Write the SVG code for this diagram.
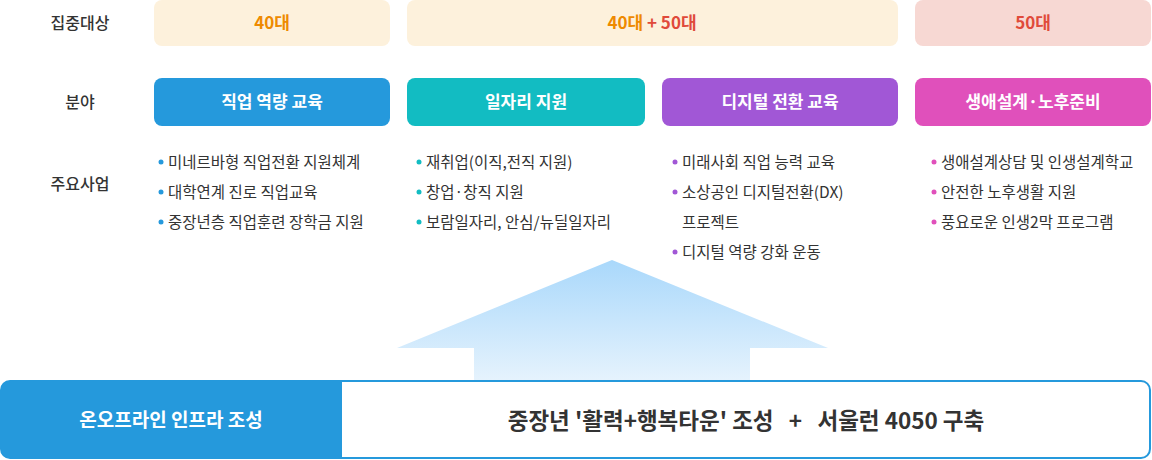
<svg xmlns="http://www.w3.org/2000/svg" width="1152" height="460" viewBox="0 0 1152 460">
<style>
text{font-family:"Noto Sans CJK KR","Noto Sans",sans-serif}
.lab{font-size:16px;fill:#333;font-weight:500}
.hd{font-size:17px;font-weight:700;text-anchor:middle}
.cat{font-size:17px;font-weight:700;fill:#fff;text-anchor:middle}
.it{font-size:15.5px;fill:#333}
</style>
<defs>
<linearGradient id="ag" x1="0" y1="0" x2="0" y2="1">
<stop offset="0" stop-color="#a9d8fb"/><stop offset="1" stop-color="#e6f3fd"/>
</linearGradient>
</defs>
<g id="labels">
<text class="lab" x="80" y="29" text-anchor="middle">집중대상</text>
<text class="lab" x="80" y="108" text-anchor="middle">분야</text>
<text class="lab" x="80" y="190" text-anchor="middle">주요사업</text>
</g>
<g id="targets">
<rect x="154" y="0" width="236" height="46" rx="8" fill="#fdf1dc"/>
<text class="hd" x="272" y="29" fill="#ee8a00">40대</text>
<rect x="407" y="0" width="491" height="46" rx="8" fill="#fdf1dc"/>
<text class="hd" x="652" y="29" fill="#ee8a00">40대 <tspan fill="#e04a3a">+ 50대</tspan></text>
<rect x="915" y="0" width="236" height="46" rx="8" fill="#f7d8d3"/>
<text class="hd" x="1033" y="29" fill="#e04a3a">50대</text>
</g>
<g id="cat1"><rect x="154" y="78" width="236" height="48" rx="8" fill="#2599dc"/><text class="cat" x="272" y="108">직업 역량 교육</text>
<circle cx="161" cy="162" r="2.5" fill="#2599dc"/><text class="it" x="168" y="168">미네르바형 직업전환 지원체계</text>
<circle cx="161" cy="192" r="2.5" fill="#2599dc"/><text class="it" x="168" y="198">대학연계 진로 직업교육</text>
<circle cx="161" cy="222" r="2.5" fill="#2599dc"/><text class="it" x="168" y="228">중장년층 직업훈련 장학금 지원</text></g>
<g id="cat2"><rect x="407" y="78" width="238" height="48" rx="8" fill="#12bcc2"/><text class="cat" x="526" y="108">일자리 지원</text>
<circle cx="419" cy="162" r="2.5" fill="#12bcc2"/><text class="it" x="426" y="168">재취업(이직,전직 지원)</text>
<circle cx="419" cy="192" r="2.5" fill="#12bcc2"/><text class="it" x="426" y="198">창업·창직 지원</text>
<circle cx="419" cy="222" r="2.5" fill="#12bcc2"/><text class="it" x="426" y="228">보람일자리, 안심/뉴딜일자리</text></g>
<g id="cat3"><rect x="662" y="78" width="236" height="48" rx="8" fill="#a157d6"/><text class="cat" x="780" y="108">디지털 전환 교육</text>
<circle cx="675" cy="162" r="2.5" fill="#a157d6"/><text class="it" x="682" y="168">미래사회 직업 능력 교육</text>
<circle cx="675" cy="192" r="2.5" fill="#a157d6"/><text class="it" x="682" y="198">소상공인 디지털전환(DX)</text>
<text class="it" x="682" y="228">프로젝트</text>
<circle cx="675" cy="252" r="2.5" fill="#a157d6"/><text class="it" x="682" y="258">디지털 역량 강화 운동</text></g>
<g id="cat4"><rect x="915" y="78" width="236" height="48" rx="8" fill="#e050bb"/><text class="cat" x="1033" y="108">생애설계·노후준비</text>
<circle cx="934" cy="162" r="2.5" fill="#e050bb"/><text class="it" x="941" y="168">생애설계상담 및 인생설계학교</text>
<circle cx="934" cy="192" r="2.5" fill="#e050bb"/><text class="it" x="941" y="198">안전한 노후생활 지원</text>
<circle cx="934" cy="222" r="2.5" fill="#e050bb"/><text class="it" x="941" y="228">풍요로운 인생2막 프로그램</text></g>
<g id="connectors">
<polygon points="612,260 828,348 750,348 750,382 474,382 474,348 397,348" fill="url(#ag)"/>
</g>
<g id="base">
<rect x="1" y="381" width="1149" height="77" rx="9" fill="#fff" stroke="#2599dc" stroke-width="2"/>
<path d="M10,381 H342 V458 H10 A9,9 0 0 1 1,449 V390 A9,9 0 0 1 10,381 Z" fill="#2599dc"/>
<text x="171" y="427" font-size="19" font-weight="700" fill="#fff" text-anchor="middle">온오프라인 인프라 조성</text>
<text x="746" y="429" font-size="22.5" font-weight="700" fill="#333" text-anchor="middle" xml:space="preserve">중장년 '활력+행복타운' 조성   +   서울런 4050 구축</text>
</g>
</svg>
